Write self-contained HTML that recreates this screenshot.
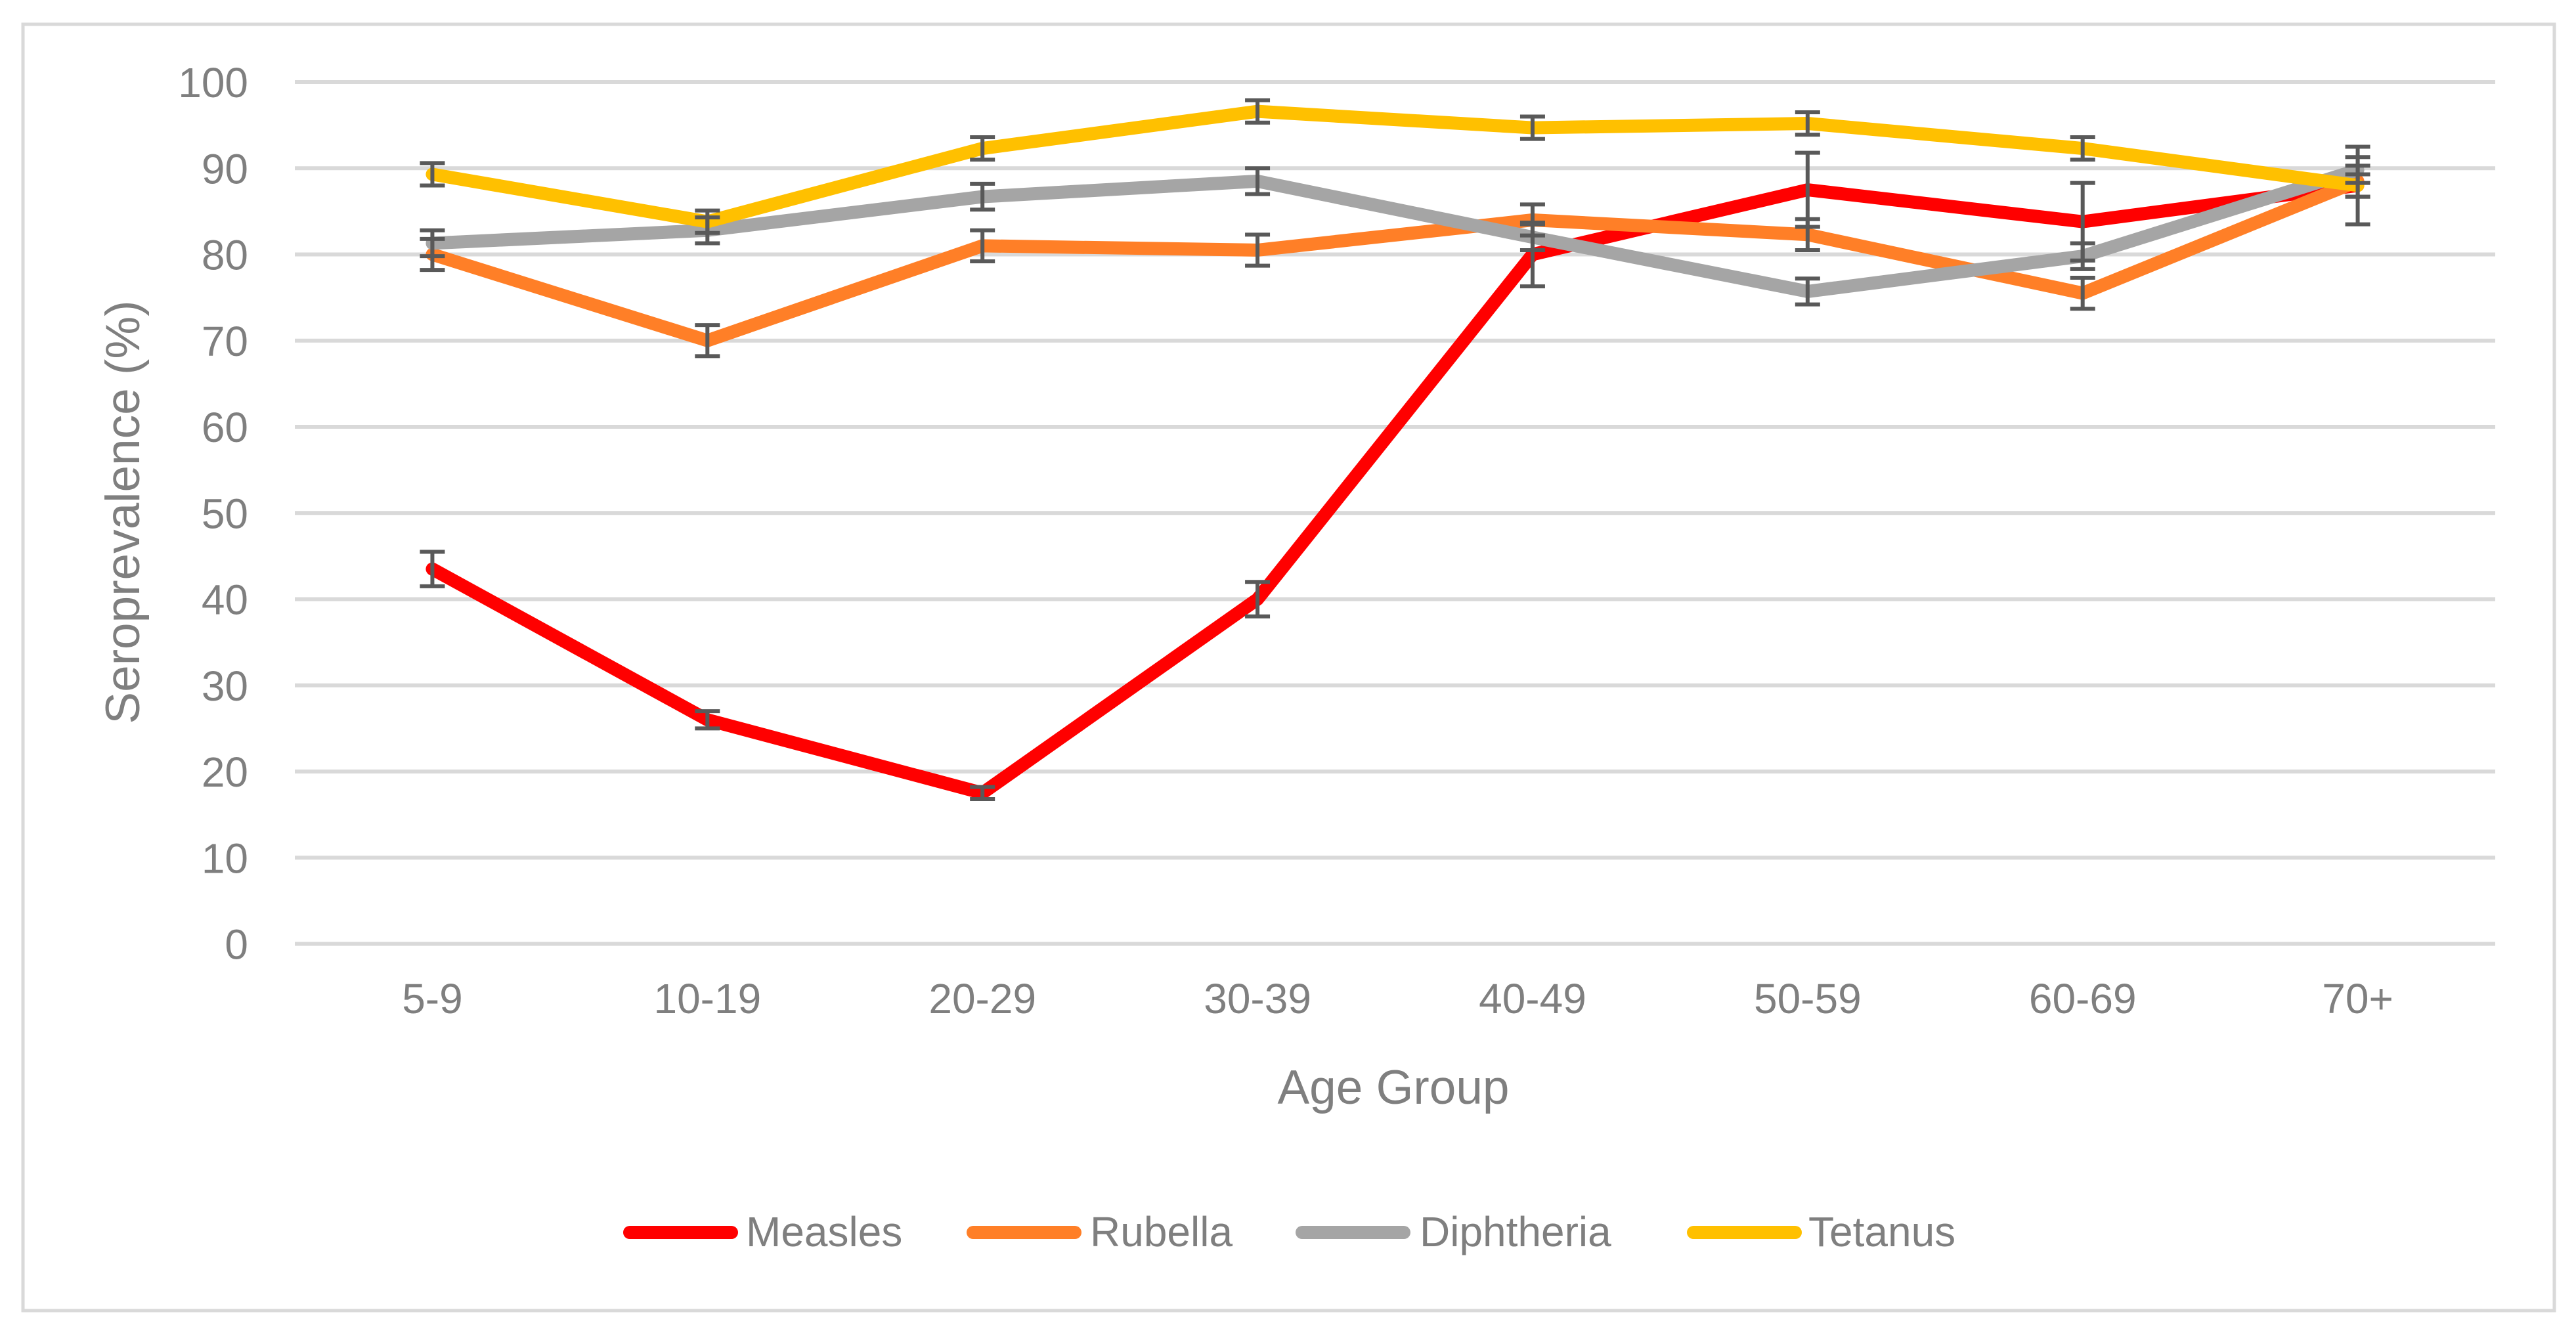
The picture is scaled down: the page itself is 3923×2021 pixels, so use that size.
<!DOCTYPE html>
<html><head><meta charset="utf-8"><style>
html,body{margin:0;padding:0;background:#fff;}
svg{display:block;}
text{font-family:"Liberation Sans",sans-serif;fill:#7f7f7f;}
</style></head><body>
<svg id="chart" width="3923" height="2021" viewBox="0 0 3923 2021" xmlns="http://www.w3.org/2000/svg">
<rect x="35" y="37" width="3855" height="1959" fill="#fff" stroke="#d9d9d9" stroke-width="5"/>
<g id="grid"></g><g id="yticks"></g><g id="xticks"></g><g id="series"></g><g id="errs"></g>
<text transform="translate(212,780) rotate(-90)" text-anchor="middle" font-size="73">Seroprevalence (%)</text>
<text x="2122" y="1681" text-anchor="middle" font-size="73">Age Group</text>
<g id="legend"></g>
</svg>
<script>
const categories = ["5-9","10-19","20-29","30-39","40-49","50-59","60-69","70+"];
const yTicks = [0,10,20,30,40,50,60,70,80,90,100];
const measles = [43.5,26,17.5,40,80,87.5,83.8,88];
const measlesErr = [2,1,0.7,2,3.7,4.3,4.5,4.5];
const rubella = [80,70,81,80.5,84,82.3,75.5,88.5];
const rubellaErr = [1.8,1.8,1.8,1.8,1.8,1.8,1.8,1.8];
const diphtheria = [81.3,82.8,86.7,88.5,82,75.7,79.8,89.8];
const diphtheriaErr = [1.5,1.5,1.5,1.5,1.5,1.5,1.5,1.5];
const tetanus = [89.3,83.8,92.3,96.6,94.7,95.2,92.3,88];
const tetanusErr = [1.3,1.3,1.3,1.3,1.3,1.3,1.3,1.3];
const seriesNames = ["Measles","Rubella","Diphtheria","Tetanus"];

const NS="http://www.w3.org/2000/svg";
const L=449,R=3800,Y0=1437.5,Y100=125;
const bw=(R-L)/categories.length;
const xs=i=>L+bw*(i+0.5);
const ys=v=>Y0+(Y100-Y0)*v/100;
function mk(tag,attrs,parent){const e=document.createElementNS(NS,tag);for(const k in attrs)e.setAttribute(k,attrs[k]);parent.appendChild(e);return e;}
const grid=document.getElementById('grid'),yt=document.getElementById('yticks'),xt=document.getElementById('xticks');
yTicks.forEach(t=>{
  const l=mk('line',{x1:L,x2:R,y1:ys(t),y2:ys(t),stroke:'#d9d9d9','stroke-width':6},grid);
  
  
  const tx=mk('text',{x:378,y:ys(t)+23,'text-anchor':'end','font-size':64},yt);
  tx.textContent=t;
  
  
});
categories.forEach((c,i)=>{
  const tx=mk('text',{x:xs(i),y:1543,'text-anchor':'middle','font-size':64},xt);
  tx.textContent=c;
  
  
});
const data=[[measles,measlesErr,'#ff0000'],[rubella,rubellaErr,'#ff7f27'],[diphtheria,diphtheriaErr,'#a5a5a5'],[tetanus,tetanusErr,'#ffc000']];
const sg=document.getElementById('series'),eg=document.getElementById('errs');
data.forEach((d,k)=>{
  const pts=d[0].map((v,i)=>xs(i)+','+ys(v)).join(' ');
  const pl=mk('polyline',{points:pts,fill:'none',stroke:d[2],'stroke-width':20,'stroke-linejoin':'round','stroke-linecap':'round'},sg);
  
  
  d[0].forEach((v,i)=>{
    const x=xs(i),t=ys(v+d[1][i]),b=ys(v-d[1][i]);
    const g=mk('g',{stroke:'#595959','stroke-width':6},eg);
    
    
    mk('line',{x1:x,x2:x,y1:t,y2:b},g);
    mk('line',{x1:x-19,x2:x+19,y1:t,y2:t},g);
    mk('line',{x1:x-19,x2:x+19,y1:b,y2:b},g);
  });
});
const lg=document.getElementById('legend');
const legX=[[949,1136],[1472,1660],[1973,2162],[2569,2754]];
seriesNames.forEach((n,k)=>{
  const g=mk('g',{},lg);
  
  
  mk('line',{x1:legX[k][0]+10,x2:legX[k][0]+165,y1:1877,y2:1877,stroke:data[k][2],'stroke-width':20,'stroke-linecap':'round'},g);
  const tx=mk('text',{x:legX[k][1],y:1898,'font-size':64},g);
  tx.textContent=n;
});
</script>
</body></html>
